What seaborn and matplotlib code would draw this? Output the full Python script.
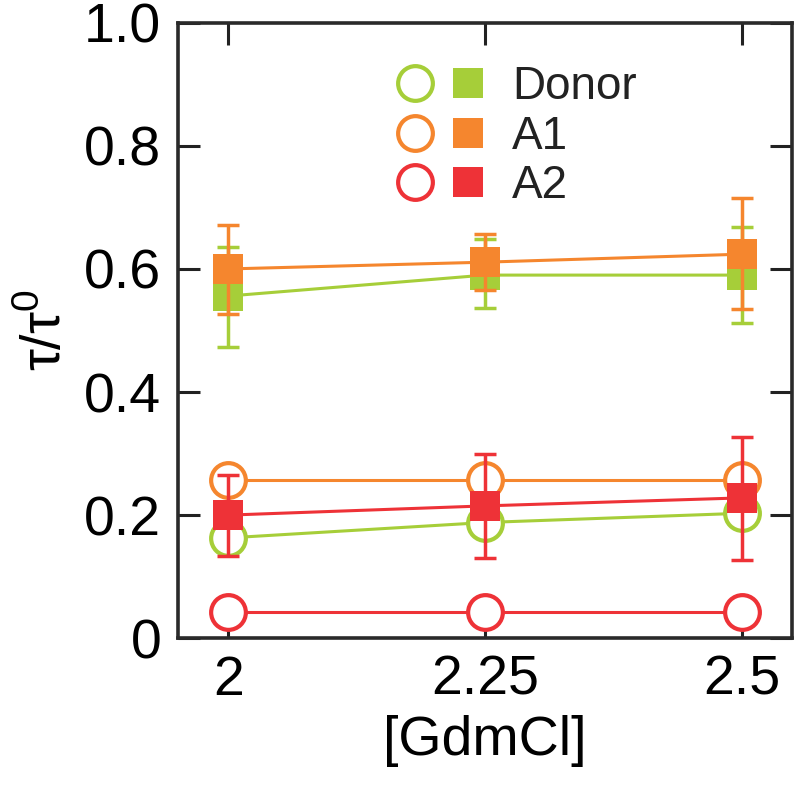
import matplotlib
matplotlib.use('Agg')
import matplotlib.pyplot as plt
import seaborn as sns
from matplotlib.lines import Line2D
from matplotlib.legend_handler import HandlerTuple

sns.set_theme(style='ticks')
plt.rcParams['font.family'] = ['Liberation Sans', 'DejaVu Sans']
plt.rcParams['mathtext.fontset'] = 'custom'
plt.rcParams['mathtext.rm'] = 'Liberation Sans'
plt.rcParams['text.color'] = 'black'
plt.rcParams['axes.labelcolor'] = 'black'
plt.rcParams['xtick.labelcolor'] = 'black'
plt.rcParams['ytick.labelcolor'] = 'black'

gdm = [2.0, 2.25, 2.5]
tick_labels = ['2', '2.25', '2.5']
names = ['Donor', 'A1', 'A2']
colors = ['#a6ce39', '#f5862e', '#ee3237']

# open circles
donor_open = [0.163, 0.188, 0.203]
a1_open = [0.257, 0.257, 0.257]
a2_open = [0.043, 0.043, 0.043]

# filled squares with error bars
donor_fill = [0.556, 0.590, 0.590]
donor_lo = [0.473, 0.537, 0.512]
donor_hi = [0.636, 0.648, 0.668]
a1_fill = [0.600, 0.611, 0.624]
a1_lo = [0.527, 0.565, 0.535]
a1_hi = [0.672, 0.657, 0.715]
a2_fill = [0.200, 0.215, 0.228]
a2_lo = [0.133, 0.130, 0.127]
a2_hi = [0.265, 0.300, 0.327]


def main():
    fig = plt.figure(figsize=(8, 7.85), dpi=100)
    ax = fig.add_axes([0.2225, 0.187, 0.7675, 0.784])

    for vals, c in zip([donor_open, a1_open, a2_open], colors):
        sns.lineplot(x=gdm, y=vals, color=c, lw=2.2, marker='o', markersize=25,
                     markerfacecolor='white', markeredgecolor=c, markeredgewidth=3,
                     ax=ax, zorder=2)

    fills = [(donor_fill, donor_lo, donor_hi), (a1_fill, a1_lo, a1_hi), (a2_fill, a2_lo, a2_hi)]
    for i, ((vals, lo, hi), c) in enumerate(zip(fills, colors)):
        z = 3 + i
        sns.lineplot(x=gdm, y=vals, color=c, lw=2.2, marker='s', markersize=22,
                     markeredgewidth=0, ax=ax, zorder=z)
        err = [[v - l for v, l in zip(vals, lo)], [h - v for v, h in zip(vals, hi)]]
        ax.errorbar(gdm, vals, yerr=err, fmt='none', ecolor=c, elinewidth=2.5,
                    capsize=8, capthick=2.5, zorder=z)

    ax.set_xlim(1.951, 2.549)
    ax.set_ylim(0, 1.0)
    ax.set_xticks(gdm)
    ax.set_xticklabels(tick_labels)
    ax.set_yticks([0, 0.2, 0.4, 0.6, 0.8, 1.0])
    ax.set_yticklabels(['0', '0.2', '0.4', '0.6', '0.8', '1.0'])
    ax.tick_params(direction='in', length=16, width=2.2, labelsize=40,
                   top=True, right=True, pad=12, color='#222222', labelcolor='black')
    for s in ax.spines.values():
        s.set_linewidth(2.6)
        s.set_color('#2a2a2a')

    ax.set_xlabel('[GdmCl]', fontsize=40, labelpad=6, color='black')
    ax.set_ylabel(r'τ/τ$^{\mathregular{0}}$', fontsize=40, labelpad=8, color='black')

    handles = []
    for c in colors:
        h1 = Line2D([], [], ls='none', marker='o', markersize=25, markerfacecolor='white',
                    markeredgecolor=c, markeredgewidth=3)
        h2 = Line2D([], [], ls='none', marker='s', markersize=22, markeredgewidth=0, color=c)
        handles.append((h1, h2))
    leg = ax.legend(handles, names, handler_map={tuple: HandlerTuple(ndivide=None, pad=0.2)},
                    loc='upper left', bbox_to_anchor=(0.298, 0.983), frameon=False,
                    fontsize=33, handlelength=2.1, handletextpad=0.5, labelspacing=0.12,
                    borderpad=0.2)
    for t in leg.get_texts():
        t.set_color('#222222')

    fig.savefig('out.png', dpi=100)


if __name__ == '__main__':
    main()
